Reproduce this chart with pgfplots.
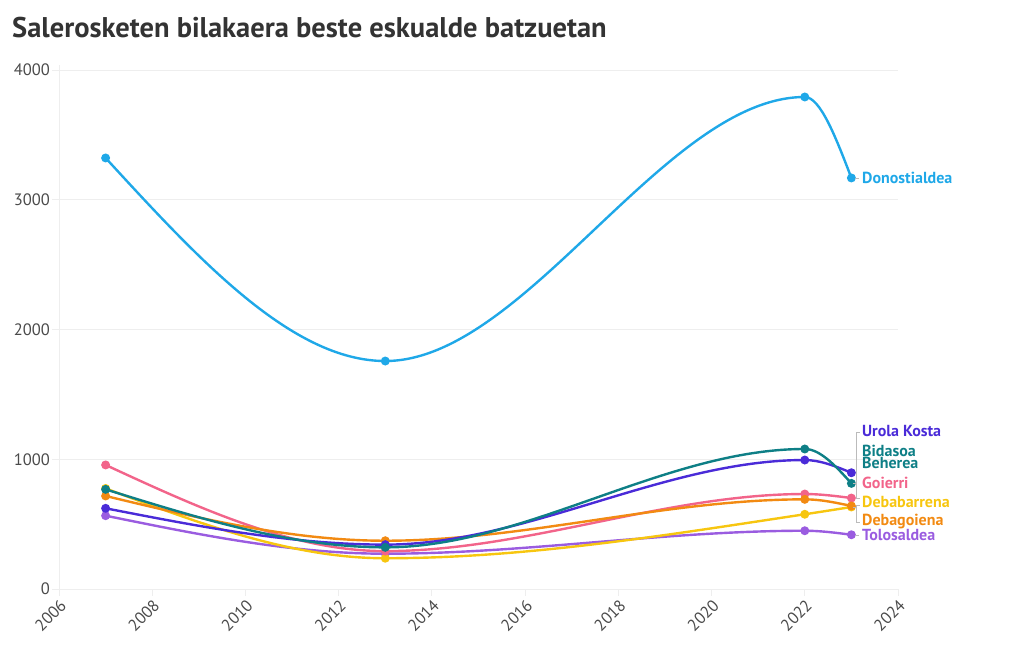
\documentclass[border=0pt]{standalone}
\usepackage{pgfplots}
\pgfplotsset{compat=1.18}
\usepackage{fontspec}
\setmainfont{PT Sans}
\definecolor{cDon}{HTML}{1FA8E8}
\definecolor{cUro}{HTML}{4A2BD8}
\definecolor{cBid}{HTML}{0E7F86}
\definecolor{cGoi}{HTML}{F2648A}
\definecolor{cDbb}{HTML}{F7C610}
\definecolor{cDbg}{HTML}{F28A12}
\definecolor{cTol}{HTML}{9A5CE0}
\definecolor{gridc}{HTML}{EEEEEE}
\definecolor{tickc}{HTML}{4A4A4A}
\definecolor{titlec}{HTML}{333333}
\definecolor{leadc}{HTML}{BBBBBB}
% monotone cubic (monotone-x) plot handler
\makeatletter
\newcount\mono@n
\newcount\mono@i
\def\pgfplothandlermonotone{%
  \def\pgf@plotstreamstart{%
    \global\mono@n=0\relax
    \global\let\pgf@plotstreampoint=\mono@point
    \global\let\pgf@plotstreamspecial=\pgfutil@gobble
    \global\let\pgf@plotstreamend=\mono@end
  }%
}
\def\mono@point#1{%
  \pgf@process{#1}%
  \global\advance\mono@n by 1\relax
  \expandafter\xdef\csname mono@x\the\mono@n\endcsname{\pgf@sys@tonumber\pgf@x}%
  \expandafter\xdef\csname mono@y\the\mono@n\endcsname{\pgf@sys@tonumber\pgf@y}%
}
\def\mono@X#1{\csname mono@x\number#1\endcsname}
\def\mono@Y#1{\csname mono@y\number#1\endcsname}
\def\mono@T#1{\csname mono@t\number#1\endcsname}
\def\mono@tangents{%
  \mono@i=2\relax
  \loop
    \edef\mono@xa{\mono@X{\numexpr\mono@i-1\relax}}\edef\mono@ya{\mono@Y{\numexpr\mono@i-1\relax}}%
    \edef\mono@xb{\mono@X{\mono@i}}\edef\mono@yb{\mono@Y{\mono@i}}%
    \edef\mono@xc{\mono@X{\numexpr\mono@i+1\relax}}\edef\mono@yc{\mono@Y{\numexpr\mono@i+1\relax}}%
    \pgfmathsetmacro\mono@hA{(\mono@xb)-(\mono@xa)}%
    \pgfmathsetmacro\mono@hB{(\mono@xc)-(\mono@xb)}%
    \pgfmathsetmacro\mono@sA{((\mono@yb)-(\mono@ya))/(\mono@hA)}%
    \pgfmathsetmacro\mono@sB{((\mono@yc)-(\mono@yb))/(\mono@hB)}%
    \pgfmathsetmacro\mono@p{((\mono@sA)*(\mono@hB)+(\mono@sB)*(\mono@hA))/((\mono@hA)+(\mono@hB))}%
    \pgfmathsetmacro\mono@pr{(\mono@sA)*(\mono@sB)}%
    \pgfmathsetmacro\mono@sg{(\mono@sA)>0 ? 1 : -1}%
    \pgfmathsetmacro\mono@mn{min(abs(\mono@sA),abs(\mono@sB),0.5*abs(\mono@p))}%
    \pgfmathsetmacro\mono@tv{(\mono@pr)>0 ? 2*(\mono@sg)*(\mono@mn) : 0}%
    \expandafter\xdef\csname mono@t\the\mono@i\endcsname{\mono@tv}%
    \advance\mono@i by 1\relax
  \ifnum\mono@i<\mono@n\repeat
  \pgfmathsetmacro\mono@tv{(3*((\mono@Y{2})-(\mono@Y{1}))/((\mono@X{2})-(\mono@X{1}))-(\mono@T{2}))/2}%
  \expandafter\xdef\csname mono@t1\endcsname{\mono@tv}%
  \pgfmathsetmacro\mono@tv{(3*((\mono@Y{\mono@n})-(\mono@Y{\numexpr\mono@n-1\relax}))/((\mono@X{\mono@n})-(\mono@X{\numexpr\mono@n-1\relax}))-(\mono@T{\numexpr\mono@n-1\relax}))/2}%
  \expandafter\xdef\csname mono@t\the\mono@n\endcsname{\mono@tv}%
}
\def\mono@curves{%
  \mono@i=1\relax
  \loop
    \edef\mono@xa{\mono@X{\mono@i}}\edef\mono@ya{\mono@Y{\mono@i}}\edef\mono@ta{\mono@T{\mono@i}}%
    \edef\mono@xb{\mono@X{\numexpr\mono@i+1\relax}}\edef\mono@yb{\mono@Y{\numexpr\mono@i+1\relax}}\edef\mono@tb{\mono@T{\numexpr\mono@i+1\relax}}%
    \pgfmathsetmacro\mono@dx{((\mono@xb)-(\mono@xa))/3}%
    \pgfmathsetmacro\mono@cax{(\mono@xa)+(\mono@dx)}%
    \pgfmathsetmacro\mono@cay{(\mono@ya)+(\mono@dx)*(\mono@ta)}%
    \pgfmathsetmacro\mono@cbx{(\mono@xb)-(\mono@dx)}%
    \pgfmathsetmacro\mono@cby{(\mono@yb)-(\mono@dx)*(\mono@tb)}%
    \pgfpathcurveto{\pgfqpoint{\mono@cax pt}{\mono@cay pt}}{\pgfqpoint{\mono@cbx pt}{\mono@cby pt}}{\pgfqpoint{\mono@xb pt}{\mono@yb pt}}%
    \advance\mono@i by 1\relax
  \ifnum\mono@i<\mono@n\repeat
}
\def\mono@end{%
  \pgfpathmoveto{\pgfqpoint{\mono@X{1}pt}{\mono@Y{1}pt}}%
  \ifnum\mono@n=2 \pgfpathlineto{\pgfqpoint{\mono@X{2}pt}{\mono@Y{2}pt}}\fi
  \ifnum\mono@n>2 \mono@tangents\mono@curves\fi
}
\tikzset{monotone/.code={\let\tikz@plot@handler=\pgfplothandlermonotone}}
\makeatother
\begin{document}
\begin{tikzpicture}[x=1pt,y=1pt]
\useasboundingbox (-59,-61) rectangle (961,589);
\begin{axis}[
  at={(0,0)}, anchor=south west,
  scale only axis, width=839pt, height=519pt,
  xmin=2006, xmax=2024, ymin=0, ymax=4000,
  xtick={2006,2008,...,2024},
  ytick={0,1000,2000,3000,4000},
  /pgf/number format/1000 sep={},
  /pgf/number format/assume math mode=true,
  axis line style={draw=none},
  axis x line*=bottom, axis y line*=left,
  ymajorgrids, grid style={gridc, line width=0.8pt},
  tick style={draw=gridc, line width=0.8pt},
  major tick length=7pt,
  tick align=outside,
  ticklabel style={font=\fontsize{16.5}{18}\selectfont, text=tickc},
  xticklabel style={rotate=45, anchor=north east, inner sep=1.5pt},
  yticklabel style={inner sep=2pt},
  clip=false,
  every axis plot/.append style={line width=2.4pt, monotone, mark=*, mark size=3.2pt},
]
\draw[gridc, line width=0.8pt] (axis cs:2006,0) -- (axis cs:2006,4040);
\draw[gridc, line width=0.8pt] (axis cs:2006,0) -- (axis cs:2024,0);
\addplot[color=cDon, mark options={fill=cDon}] coordinates {(2007,3322) (2013,1757) (2022,3792) (2023,3168)};
\addplot[color=cTol, mark options={fill=cTol}] coordinates {(2007,565) (2013,272) (2022,449) (2023,418)};
\addplot[color=cDbb, mark options={fill=cDbb}] coordinates {(2007,775) (2013,237) (2022,576) (2023,632)};
\addplot[color=cGoi, mark options={fill=cGoi}] coordinates {(2007,956) (2013,292) (2022,732) (2023,701)};
\addplot[color=cDbg, mark options={fill=cDbg}] coordinates {(2007,717) (2013,372) (2022,691) (2023,640)};
\addplot[color=cUro, mark options={fill=cUro}] coordinates {(2007,622) (2013,342) (2022,994) (2023,896)};
\addplot[color=cBid, mark options={fill=cBid}] coordinates {(2007,768) (2013,321) (2022,1079) (2023,814)};
\end{axis}
% leader lines
\draw[leadc, line width=0.8pt] (801,157) -- (797,157) -- (797,91) -- (801,91);
\draw[leadc, line width=0.8pt] (794,106) -- (797,106);
\draw[leadc, line width=0.8pt] (801,84) -- (797,84) -- (797,67) -- (801,67);
\draw[leadc, line width=0.8pt] (794,82) -- (797,82);
\draw[leadc, line width=0.8pt] (796,54) -- (800,54);
\draw[leadc, line width=0.8pt] (796,411) -- (800,411);
% labels
\tikzset{lab/.style={anchor=west, inner sep=0pt, font=\fontsize{16}{16}\selectfont\bfseries}}
\node[lab, text=cDon] at (803,411) {Donostialdea};
\node[lab, text=cUro] at (803,158) {Urola Kosta};
\node[lab, text=cBid, align=left, font=\fontsize{16}{12.5}\selectfont\bfseries] at (803,132) {Bidasoa\\Beherea};
\node[lab, text=cGoi] at (803,106) {Goierri};
\node[lab, text=cDbb] at (803,87) {Debabarrena};
\node[lab, text=cDbg] at (803,67) {Debagoiena};
\node[lab, text=cTol] at (803,54) {Tolosaldea};
% title
\node[anchor=west, inner sep=0pt, font=\fontsize{28.5}{31}\selectfont\bfseries, text=titlec] at (-47,561) {Salerosketen bilakaera beste eskualde batzuetan};
\end{tikzpicture}
\end{document}
